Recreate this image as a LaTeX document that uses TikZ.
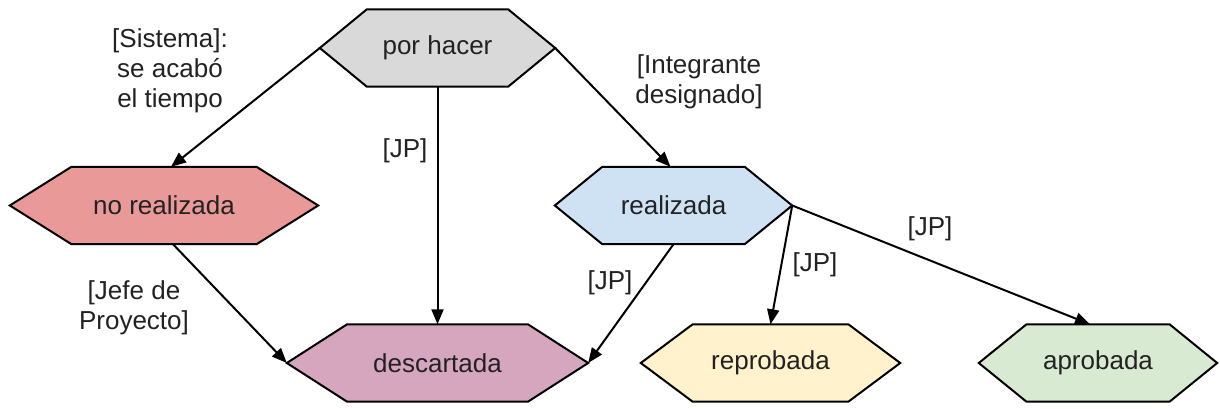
\documentclass[tikz,border=0pt]{standalone}
\usepackage{fontspec}
\setmainfont{Liberation Sans}
\usetikzlibrary{arrows.meta,backgrounds,calc}

\definecolor{txt}{HTML}{222222}
\definecolor{phfill}{HTML}{D9D9D9}
\definecolor{nrfill}{HTML}{EA9999}
\definecolor{rlfill}{HTML}{CFE2F3}
\definecolor{dcfill}{HTML}{D5A6BD}
\definecolor{rpfill}{HTML}{FFF2CC}
\definecolor{apfill}{HTML}{D9EAD3}

\tikzset{
  state/.style={minimum height=77pt, inner sep=0pt, text=txt,
    font=\fontsize{26}{30}\selectfont},
  lbl/.style={align=center, text=txt, inner sep=0pt,
    font=\fontsize{26}{30}\selectfont},
  arr/.style={line width=2pt, draw=black, -{Triangle[length=15pt,width=12pt]}},
  hexline/.style={line width=2pt, draw=black, line join=miter}
}

% hexagon with pointed left/right ends around a (borderless) node;
% the slanted sides take 20% of the node width
\newcommand\hexoutline[2]{%
  \draw[hexline, fill=#2] let \p1=(#1.west), \p2=(#1.east),
      \n1={0.2*(\x2-\x1)} in
    (#1.west) -- ([xshift=\n1]#1.north west) -- ([xshift=-\n1]#1.north east)
    -- (#1.east) -- ([xshift=-\n1]#1.south east) -- ([xshift=\n1]#1.south west)
    -- cycle;}

\begin{document}
\begin{tikzpicture}[x=1pt,y=-1pt]
\useasboundingbox (0,0) rectangle (1220,409);

% states
\node[state, minimum width=235pt] (ph) at (437.5,48)  {por hacer};
\node[state, minimum width=308pt] (nr) at (164,205.5) {no realizada};
\node[state, minimum width=237pt] (rl) at (673.5,205.5) {realizada};
\node[state, minimum width=301pt] (dc) at (437.5,363) {descartada};
\node[state, minimum width=259pt] (rp) at (770.5,363) {reprobada};
\node[state, minimum width=238pt] (ap) at (1098,363)  {aprobada};

\begin{scope}[on background layer]
  \fill[white] (0,0) rectangle (1220,409);
  \hexoutline{ph}{phfill}
  \hexoutline{nr}{nrfill}
  \hexoutline{rl}{rlfill}
  \hexoutline{dc}{dcfill}
  \hexoutline{rp}{rpfill}
  \hexoutline{ap}{apfill}
\end{scope}

% transitions
\draw[arr] (ph.west) -- ([xshift=7pt]nr.north);
\draw[arr] (ph.south) -- (dc.north);
\draw[arr] (ph.east) -- ([xshift=-3pt]rl.north);
\draw[arr] ([xshift=9pt]nr.south) -- (dc.west);
\draw[arr] (rl.south) -- (dc.east);
\draw[arr] (rl.east) -- (rp.north);
\draw[arr] (rl.east) -- ([xshift=-8pt]ap.north);

% guard labels
\node[lbl] (l1) at (170,71)  {[Sistema]:\\se acabó\\el tiempo};
\node[lbl] (l2) at (405,151) {[JP]};
\node[lbl] (l3) at (699,82)  {[Integrante\\designado]};
\node[lbl] (l4) at (134,308) {[Jefe de\\Proyecto]};
\node[lbl] (l5) at (610,283) {[JP]};
\node[lbl] (l6) at (815,265) {[JP]};
\node[lbl] (l7) at (930,229) {[JP]};
\end{tikzpicture}
\end{document}
